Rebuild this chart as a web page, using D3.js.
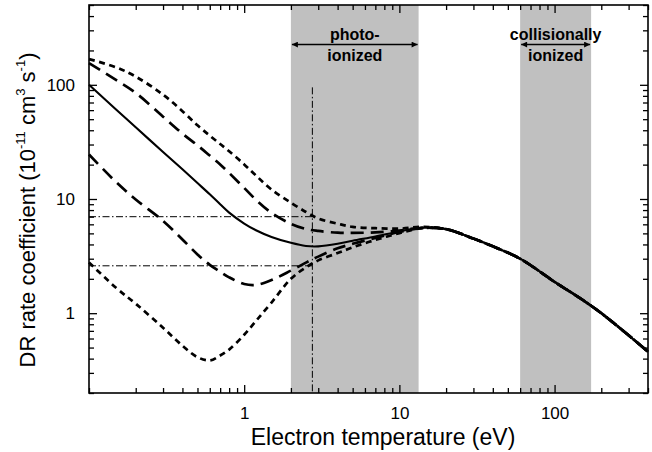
<!DOCTYPE html>
<html lang="en">
<head>
    <meta charset="UTF-8">
    <title>DR rate coefficient</title>
    <style>
        body { margin: 0; padding: 0; background: #fff; }
        svg { font-family: Arial, "Liberation Sans", sans-serif; }
        .curve { fill: none; stroke: #000; }
        .guide { fill: none; stroke: #000; stroke-width: 1; stroke-dasharray: 7,2.5,1.5,2.5; }
        .tick text { font-size: 17px; fill: #000; }
        .tick line { stroke: #000; stroke-width: 1.3; }
    </style>
</head>
<body>
    <div id="chart"></div>

    <script src="https://d3js.org/d3.v7.min.js"></script>
    <script>
        // Electron temperatures (eV) at which the curves were read
        const temps = [0.1, 0.15, 0.2, 0.3, 0.4, 0.5, 0.6, 0.7, 0.8, 1, 1.2, 1.5, 2, 2.5, 3, 4, 5, 7, 10, 14, 20, 30, 40, 60, 100, 150, 200, 300, 400];

        // DR rate coefficients (10^-11 cm^3 s^-1)
        const solid = [100, 60.5, 42.5, 25.8, 18.2, 13.8, 11, 9.0, 7.6, 6.1, 5.3, 4.65, 4.13, 3.88, 3.85, 4.05, 4.31, 4.7, 5.2, 5.6, 5.45, 4.5, 3.85, 3.0, 1.88, 1.32, 1.0, 0.64, 0.46];
        const longDashHigh = [155, 110, 85, 52.6, 37.4, 29.5, 24.0, 20.1, 16.9, 12.5, 9.75, 7.57, 6.07, 5.46, 5.25, 5.07, 5.05, 5.1, 5.3, 5.6, 5.45, 4.5, 3.85, 3.0, 1.88, 1.32, 1.0, 0.64, 0.46];
        const shortDashHigh = [168, 142, 118, 82, 58.8, 44.2, 35.9, 30.3, 26.2, 20.1, 15.9, 12.1, 9.27, 7.7, 6.75, 6.08, 5.7, 5.55, 5.5, 5.7, 5.45, 4.5, 3.85, 3.0, 1.88, 1.32, 1.0, 0.64, 0.46];
        const longDashLow = [24.5, 14.0, 9.9, 6.44, 4.42, 3.27, 2.65, 2.31, 2.06, 1.8, 1.77, 1.95, 2.36, 2.77, 3.13, 3.7, 4.05, 4.56, 5.14, 5.55, 5.45, 4.5, 3.85, 3.0, 1.88, 1.32, 1.0, 0.64, 0.46];
        const shortDashLow = [2.78, 1.66, 1.21, 0.745, 0.519, 0.412, 0.386, 0.426, 0.48, 0.647, 0.865, 1.24, 2.0, 2.52, 2.9, 3.36, 3.77, 4.38, 5.02, 5.55, 5.45, 4.5, 3.85, 3.0, 1.88, 1.32, 1.0, 0.64, 0.46];

        // shaded temperature ranges
        const photoBand = [2, 13.3];
        const collBand = [60, 172];

        // dash-dot guides
        const guideT = 2.75;
        const guideTop = 95;
        const guideLevels = [7, 2.6];

        const xMajor = [1, 10, 100];
        const yMajor = [1, 10, 100];

        const W = 652, H = 452;
        const margin = { top: 5, right: 4, bottom: 59, left: 89 };
        const width = W - margin.left - margin.right;
        const height = H - margin.top - margin.bottom;

        const svg = d3.select("#chart").append("svg")
            .attr("width", W)
            .attr("height", H);

        const defs = svg.append("defs");
        ["start", "end"].forEach(k => {
            defs.append("marker")
                .attr("id", "arrow-" + k)
                .attr("viewBox", "0 0 10 10")
                .attr("refX", 10).attr("refY", 5)
                .attr("markerWidth", 9).attr("markerHeight", 6)
                .attr("markerUnits", "userSpaceOnUse")
                .attr("orient", k === "end" ? "auto" : "auto-start-reverse")
                .append("path")
                .attr("d", "M0,0 L10,5 L0,10 z")
                .attr("fill", "#000");
        });

        const g = svg.append("g")
            .attr("transform", "translate(" + margin.left + "," + margin.top + ")");

        const x = d3.scaleLog().domain([0.1, 400]).range([0, width]);
        const y = d3.scaleLog().domain([0.2, 500]).range([height, 0]);

        // shaded bands
        [photoBand, collBand].forEach(b => {
            g.append("rect")
                .attr("x", x(b[0]))
                .attr("y", 0)
                .attr("width", x(b[1]) - x(b[0]))
                .attr("height", height)
                .attr("fill", "#c0c0c0");
        });

        // curves
        const line = d3.line()
            .x((d, i) => x(temps[i]))
            .y(d => y(d))
            .curve(d3.curveCatmullRom.alpha(0.5));

        const series = [
            { v: shortDashHigh, dash: "6,4.5", w: 2.7 },
            { v: longDashHigh, dash: "13,7", w: 2.7 },
            { v: shortDashLow, dash: "6,4.5", w: 2.7 },
            { v: longDashLow, dash: "13,7", w: 2.7 },
            { v: solid, dash: null, w: 2.1 }
        ];

        series.forEach(s => {
            g.append("path")
                .attr("class", "curve")
                .attr("d", line(s.v))
                .attr("stroke-width", s.w)
                .attr("stroke-dasharray", s.dash);
        });

        // dash-dot guides
        g.append("line")
            .attr("class", "guide")
            .attr("x1", x(guideT)).attr("x2", x(guideT))
            .attr("y1", y(guideTop)).attr("y2", height);

        guideLevels.forEach(v => {
            g.append("line")
                .attr("class", "guide")
                .attr("x1", 0).attr("x2", x(guideT))
                .attr("y1", y(v)).attr("y2", y(v));
        });

        // arrows and labels
        const arrowY = y(225);
        [{ b: photoBand, l1: "photo-", l2: "ionized" },
         { b: collBand, l1: "collisionally", l2: "ionized" }].forEach(a => {
            g.append("line")
                .attr("x1", x(a.b[0]) + 1).attr("x2", x(a.b[1]) - 1)
                .attr("y1", arrowY).attr("y2", arrowY)
                .attr("stroke", "#000").attr("stroke-width", 1.5)
                .attr("marker-start", "url(#arrow-start)")
                .attr("marker-end", "url(#arrow-end)");
            const cx = x(Math.sqrt(a.b[0] * a.b[1]));
            g.append("text")
                .attr("x", cx).attr("y", arrowY - 5)
                .attr("text-anchor", "middle")
                .attr("font-size", 16).attr("font-weight", "bold")
                .text(a.l1);
            g.append("text")
                .attr("x", cx).attr("y", arrowY + 16)
                .attr("text-anchor", "middle")
                .attr("font-size", 16).attr("font-weight", "bold")
                .text(a.l2);
        });

        // axes: minor ticks then major ticks, all inward
        const xMinor = x.ticks().filter(t => xMajor.indexOf(t) < 0);
        const yMinor = y.ticks().filter(t => yMajor.indexOf(t) < 0);

        function addAxis(axisFn, scale, vals, size, labels, tr) {
            const a = axisFn(scale).tickValues(vals).tickSize(-size).tickPadding(size + 6);
            if (!labels) a.tickFormat("");
            else a.tickFormat(d3.format("~g"));
            const ax = g.append("g").attr("transform", tr).call(a);
            ax.select(".domain").remove();
            return ax;
        }

        addAxis(d3.axisBottom, x, xMinor, 5, false, "translate(0," + height + ")");
        addAxis(d3.axisBottom, x, xMajor, 8, true, "translate(0," + height + ")");
        addAxis(d3.axisTop, x, xMinor, 5, false, "translate(0,0)");
        addAxis(d3.axisTop, x, xMajor, 8, false, "translate(0,0)");
        addAxis(d3.axisLeft, y, yMinor, 5, false, "translate(0,0)");
        addAxis(d3.axisLeft, y, yMajor, 8, true, "translate(0,0)");
        addAxis(d3.axisRight, y, yMinor, 5, false, "translate(" + width + ",0)");
        addAxis(d3.axisRight, y, yMajor, 8, false, "translate(" + width + ",0)");

        g.append("rect")
            .attr("width", width).attr("height", height)
            .attr("fill", "none").attr("stroke", "#000").attr("stroke-width", 1.6);

        // axis titles
        svg.append("text")
            .attr("x", 383).attr("y", 445)
            .attr("text-anchor", "middle")
            .attr("font-size", 23)
            .text("Electron temperature (eV)");

        const yt = svg.append("text")
            .attr("transform", "translate(35,210) rotate(-90)")
            .attr("text-anchor", "middle")
            .attr("font-size", 22);
        yt.append("tspan").text("DR rate coefficient (10");
        yt.append("tspan").attr("font-size", 13).attr("dy", -10).text("-11");
        yt.append("tspan").attr("dy", 10).text(" cm");
        yt.append("tspan").attr("font-size", 13).attr("dy", -10).text("3");
        yt.append("tspan").attr("dy", 10).text(" s");
        yt.append("tspan").attr("font-size", 13).attr("dy", -10).text("-1");
        yt.append("tspan").attr("dy", 10).text(")");
    </script>
</body>
</html>
